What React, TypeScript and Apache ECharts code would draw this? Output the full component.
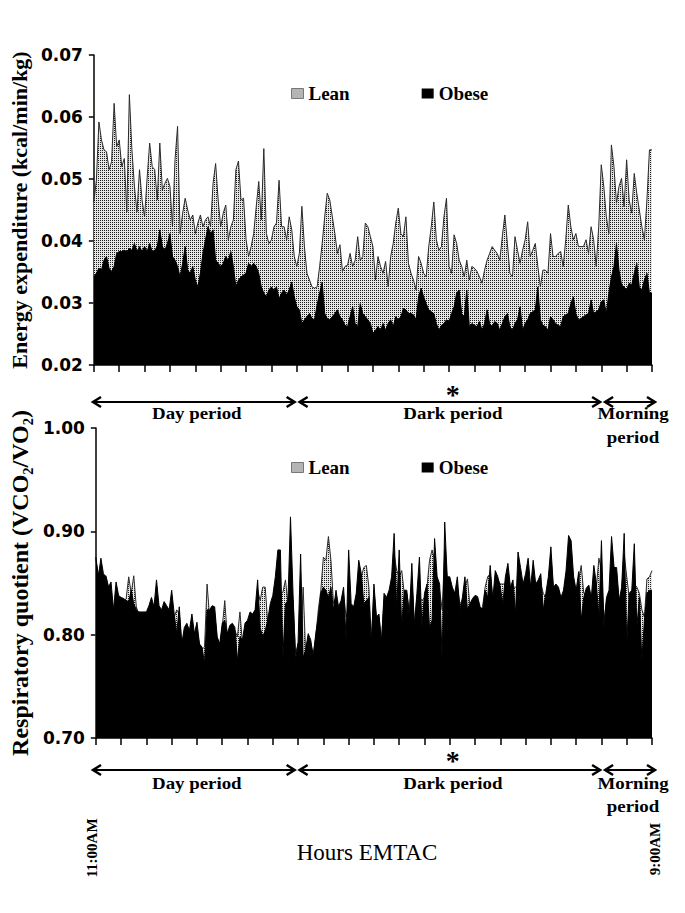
import React, { useEffect, useRef } from 'react';
import * as echarts from 'echarts';

// 6-minute slots from 11:00 AM to 9:00 AM (22 h)
const slotCount = 221;
const hourTickEvery = 10;

const eeLean = [
  0.0463, 0.0498, 0.0592, 0.0563, 0.0547, 0.0544, 0.0515, 0.0528, 0.0622, 0.0552,
  0.0563, 0.0520, 0.0533, 0.0447, 0.0636, 0.0547, 0.0488, 0.0447, 0.0515, 0.0466,
  0.0439, 0.0501, 0.0558, 0.0520, 0.0515, 0.0466, 0.0558, 0.0482, 0.0493, 0.0501,
  0.0488, 0.0423, 0.0531, 0.0585, 0.0412, 0.0445, 0.0469, 0.0450, 0.0434, 0.0442,
  0.0412, 0.0429, 0.0442, 0.0423, 0.0434, 0.0439, 0.0423, 0.0493, 0.0525, 0.0466,
  0.0423, 0.0445, 0.0458, 0.0402, 0.0423, 0.0434, 0.0515, 0.0529, 0.0466, 0.0469,
  0.0402, 0.0375, 0.0391, 0.0412, 0.0455, 0.0496, 0.0434, 0.0549, 0.0412, 0.0396,
  0.0402, 0.0423, 0.0429, 0.0498, 0.0423, 0.0423, 0.0402, 0.0439, 0.0418, 0.0375,
  0.0359, 0.0380, 0.0456, 0.0391, 0.0348, 0.0337, 0.0326, 0.0324, 0.0326, 0.0359,
  0.0396, 0.0439, 0.0477, 0.0466, 0.0439, 0.0412, 0.0380, 0.0394, 0.0351, 0.0359,
  0.0361, 0.0380, 0.0359, 0.0369, 0.0407, 0.0369, 0.0375, 0.0429, 0.0423, 0.0407,
  0.0391, 0.0337, 0.0375, 0.0359, 0.0348, 0.0367, 0.0326, 0.0375, 0.0396, 0.0429,
  0.0453, 0.0412, 0.0407, 0.0439, 0.0364, 0.0348, 0.0337, 0.0321, 0.0375, 0.0364,
  0.0348, 0.0342, 0.0391, 0.0423, 0.0463, 0.0402, 0.0385, 0.0391, 0.0439, 0.0469,
  0.0359, 0.0348, 0.0410, 0.0396, 0.0369, 0.0359, 0.0342, 0.0369, 0.0337, 0.0359,
  0.0356, 0.0351, 0.0342, 0.0332, 0.0353, 0.0369, 0.0380, 0.0391, 0.0385, 0.0380,
  0.0369, 0.0407, 0.0442, 0.0396, 0.0348, 0.0342, 0.0407, 0.0385, 0.0364, 0.0385,
  0.0402, 0.0431, 0.0375, 0.0385, 0.0396, 0.0359, 0.0326, 0.0353, 0.0353, 0.0348,
  0.0412, 0.0375, 0.0375, 0.0380, 0.0383, 0.0359, 0.0402, 0.0458, 0.0423, 0.0402,
  0.0412, 0.0391, 0.0391, 0.0391, 0.0402, 0.0380, 0.0423, 0.0402, 0.0359, 0.0423,
  0.0523, 0.0488, 0.0439, 0.0412, 0.0555, 0.0520, 0.0461, 0.0488, 0.0501, 0.0455,
  0.0531, 0.0466, 0.0445, 0.0509, 0.0477, 0.0450, 0.0423, 0.0402, 0.0466, 0.0547,
  0.0547,
];

const eeObese = [
  0.0342, 0.0348, 0.0356, 0.0353, 0.0369, 0.0375, 0.0356, 0.0351, 0.0359, 0.0380,
  0.0383, 0.0383, 0.0385, 0.0383, 0.0388, 0.0385, 0.0396, 0.0383, 0.0391, 0.0383,
  0.0391, 0.0383, 0.0396, 0.0383, 0.0385, 0.0391, 0.0418, 0.0391, 0.0385, 0.0396,
  0.0412, 0.0375, 0.0369, 0.0359, 0.0342, 0.0364, 0.0391, 0.0353, 0.0348, 0.0359,
  0.0337, 0.0326, 0.0348, 0.0380, 0.0402, 0.0423, 0.0412, 0.0418, 0.0369, 0.0364,
  0.0359, 0.0364, 0.0375, 0.0369, 0.0383, 0.0359, 0.0326, 0.0337, 0.0342, 0.0345,
  0.0348, 0.0364, 0.0359, 0.0364, 0.0359, 0.0348, 0.0326, 0.0316, 0.0310, 0.0321,
  0.0326, 0.0321, 0.0326, 0.0307, 0.0316, 0.0321, 0.0313, 0.0321, 0.0334, 0.0310,
  0.0294, 0.0289, 0.0267, 0.0273, 0.0278, 0.0283, 0.0275, 0.0273, 0.0297, 0.0316,
  0.0334, 0.0283, 0.0275, 0.0273, 0.0278, 0.0283, 0.0289, 0.0278, 0.0273, 0.0264,
  0.0262, 0.0278, 0.0294, 0.0267, 0.0262, 0.0299, 0.0283, 0.0278, 0.0273, 0.0267,
  0.0251, 0.0256, 0.0262, 0.0256, 0.0267, 0.0256, 0.0267, 0.0273, 0.0262, 0.0278,
  0.0273, 0.0278, 0.0291, 0.0289, 0.0283, 0.0283, 0.0281, 0.0273, 0.0310, 0.0324,
  0.0310, 0.0299, 0.0289, 0.0286, 0.0283, 0.0267, 0.0256, 0.0264, 0.0267, 0.0273,
  0.0270, 0.0283, 0.0294, 0.0316, 0.0321, 0.0283, 0.0278, 0.0321, 0.0262, 0.0267,
  0.0264, 0.0262, 0.0270, 0.0256, 0.0267, 0.0289, 0.0267, 0.0262, 0.0270, 0.0267,
  0.0256, 0.0267, 0.0278, 0.0283, 0.0262, 0.0256, 0.0267, 0.0273, 0.0294, 0.0256,
  0.0267, 0.0273, 0.0283, 0.0286, 0.0289, 0.0326, 0.0273, 0.0264, 0.0262, 0.0256,
  0.0278, 0.0273, 0.0267, 0.0264, 0.0262, 0.0278, 0.0281, 0.0283, 0.0299, 0.0310,
  0.0283, 0.0273, 0.0275, 0.0278, 0.0281, 0.0283, 0.0305, 0.0283, 0.0286, 0.0289,
  0.0302, 0.0305, 0.0283, 0.0316, 0.0342, 0.0359, 0.0396, 0.0353, 0.0329, 0.0326,
  0.0321, 0.0332, 0.0329, 0.0348, 0.0364, 0.0326, 0.0321, 0.0337, 0.0348, 0.0316,
  0.0316,
];

const rqLean = [
  0.872, 0.859, 0.862, 0.856, 0.857, 0.846, 0.840, 0.811, 0.836, 0.833,
  0.830, 0.832, 0.835, 0.856, 0.840, 0.857, 0.827, 0.820, 0.817, 0.819,
  0.820, 0.824, 0.830, 0.824, 0.836, 0.824, 0.820, 0.824, 0.825, 0.820,
  0.824, 0.817, 0.824, 0.820, 0.791, 0.801, 0.807, 0.801, 0.811, 0.798,
  0.804, 0.790, 0.786, 0.788, 0.849, 0.817, 0.824, 0.820, 0.795, 0.788,
  0.807, 0.833, 0.798, 0.804, 0.807, 0.804, 0.798, 0.822, 0.791, 0.804,
  0.809, 0.817, 0.814, 0.817, 0.843, 0.833, 0.846, 0.846, 0.811, 0.824,
  0.833, 0.846, 0.846, 0.840, 0.841, 0.853, 0.830, 0.836, 0.833, 0.782,
  0.791, 0.782, 0.846, 0.782, 0.798, 0.791, 0.782, 0.798, 0.824, 0.843,
  0.875, 0.872, 0.895, 0.872, 0.830, 0.836, 0.824, 0.827, 0.840, 0.817,
  0.827, 0.824, 0.824, 0.833, 0.853, 0.856, 0.865, 0.867, 0.846, 0.795,
  0.843, 0.814, 0.817, 0.795, 0.833, 0.830, 0.836, 0.849, 0.878, 0.862,
  0.856, 0.862, 0.840, 0.840, 0.824, 0.853, 0.811, 0.836, 0.836, 0.833,
  0.836, 0.846, 0.872, 0.882, 0.872, 0.853, 0.843, 0.824, 0.882, 0.853,
  0.849, 0.843, 0.836, 0.846, 0.830, 0.833, 0.846, 0.854, 0.827, 0.830,
  0.833, 0.833, 0.824, 0.827, 0.846, 0.856, 0.859, 0.836, 0.849, 0.853,
  0.849, 0.849, 0.849, 0.856, 0.843, 0.846, 0.846, 0.846, 0.856, 0.846,
  0.853, 0.856, 0.843, 0.853, 0.846, 0.846, 0.849, 0.840, 0.836, 0.843,
  0.877, 0.843, 0.846, 0.843, 0.833, 0.840, 0.856, 0.875, 0.875, 0.849,
  0.840, 0.853, 0.867, 0.840, 0.840, 0.843, 0.833, 0.853, 0.846, 0.874,
  0.862, 0.814, 0.833, 0.840, 0.856, 0.856, 0.859, 0.830, 0.843, 0.878,
  0.856, 0.836, 0.840, 0.849, 0.846, 0.840, 0.824, 0.817, 0.854, 0.856,
  0.862,
];

const rqObese = [
  0.875, 0.856, 0.874, 0.859, 0.856, 0.846, 0.851, 0.824, 0.851, 0.838,
  0.836, 0.835, 0.833, 0.832, 0.843, 0.830, 0.824, 0.822, 0.822, 0.822,
  0.822, 0.828, 0.836, 0.827, 0.853, 0.828, 0.824, 0.832, 0.828, 0.824,
  0.843, 0.820, 0.801, 0.827, 0.791, 0.807, 0.811, 0.804, 0.820, 0.801,
  0.812, 0.791, 0.788, 0.772, 0.824, 0.824, 0.828, 0.827, 0.798, 0.791,
  0.811, 0.814, 0.801, 0.809, 0.811, 0.807, 0.775, 0.798, 0.795, 0.811,
  0.814, 0.822, 0.820, 0.824, 0.853, 0.807, 0.798, 0.804, 0.814, 0.830,
  0.838, 0.856, 0.882, 0.882, 0.778, 0.830, 0.833, 0.914, 0.840, 0.775,
  0.793, 0.878, 0.778, 0.785, 0.801, 0.795, 0.778, 0.801, 0.817, 0.840,
  0.846, 0.843, 0.836, 0.846, 0.824, 0.843, 0.827, 0.833, 0.846, 0.795,
  0.882, 0.830, 0.827, 0.840, 0.872, 0.859, 0.830, 0.833, 0.836, 0.791,
  0.849, 0.817, 0.820, 0.791, 0.840, 0.836, 0.843, 0.856, 0.898, 0.824,
  0.882, 0.807, 0.843, 0.843, 0.817, 0.869, 0.807, 0.840, 0.875, 0.807,
  0.840, 0.849, 0.807, 0.814, 0.893, 0.856, 0.849, 0.775, 0.909, 0.856,
  0.856, 0.846, 0.840, 0.856, 0.824, 0.836, 0.856, 0.824, 0.830, 0.835,
  0.838, 0.837, 0.827, 0.824, 0.843, 0.836, 0.867, 0.833, 0.862, 0.856,
  0.846, 0.830, 0.856, 0.869, 0.846, 0.853, 0.820, 0.880, 0.865, 0.849,
  0.859, 0.874, 0.846, 0.872, 0.849, 0.853, 0.859, 0.824, 0.840, 0.856,
  0.885, 0.846, 0.849, 0.846, 0.836, 0.843, 0.862, 0.896, 0.891, 0.856,
  0.843, 0.861, 0.814, 0.836, 0.845, 0.848, 0.836, 0.867, 0.849, 0.817,
  0.891, 0.807, 0.836, 0.843, 0.895, 0.865, 0.865, 0.833, 0.846, 0.898,
  0.791, 0.840, 0.843, 0.888, 0.807, 0.836, 0.775, 0.814, 0.840, 0.843,
  0.843,
];

const periods = [
  { label: 'Day period', start: 0, end: 80, star: false },
  { label: 'Dark period', start: 80, end: 200, star: true },
  { label: 'Morning', label2: 'period', start: 200, end: 220, star: false },
];

const startLabel = '11:00AM';
const endLabel = '9:00AM';
const xTitle = 'Hours EMTAC';
const eeTitle = 'Energy expenditure (kcal/min/kg)';
const rqTitle = 'Respiratory quotient (VCO\u2082/VO\u2082)';

const GL = 92;
const GW = 560;
const GH = 310;
const TOPS = [55, 428];
const SERIF = '"Liberation Serif", "Times New Roman", serif';
const SANS = '"DejaVu Sans", sans-serif';

export default function App() {
  const ref = useRef<HTMLDivElement>(null);

  useEffect(() => {
    if (!ref.current) return;
    const chart = echarts.init(ref.current, null, { renderer: 'svg' });

    const cv = document.createElement('canvas');
    cv.width = 2;
    cv.height = 2;
    const ctx = cv.getContext('2d')!;
    ctx.fillStyle = '#e6e6e6';
    ctx.fillRect(0, 0, 2, 2);
    ctx.fillStyle = '#1c1c1c';
    ctx.fillRect(0, 0, 1, 1);
    const pattern: any = { image: cv.toDataURL(), repeat: 'repeat', imageWidth: 2, imageHeight: 2 };

    const cats: string[] = [];
    for (let i = 0; i < slotCount; i++) {
      const m = 11 * 60 + i * 6;
      const hh = Math.floor(m / 60) % 24;
      const mm = m % 60;
      cats.push(`${hh}:${mm < 10 ? '0' : ''}${mm}`);
    }

    const xOf = (i: number) => GL + (i * GW) / (slotCount - 1);

    const mkSeries = (name: string, data: number[], gi: number) => ({
      type: 'line',
      name,
      xAxisIndex: gi,
      yAxisIndex: gi,
      data,
      symbol: 'none',
      showSymbol: false,
      silent: true,
      lineStyle: { color: name === 'Lean' ? '#2a2a2a' : '#000', width: 1 },
      itemStyle: { color: name === 'Lean' ? pattern : '#000' },
      areaStyle: { color: name === 'Lean' ? pattern : '#000', opacity: 1, origin: 'start' },
      z: name === 'Lean' ? 2 : 3,
    });

    const text = (t: string, x: number, y: number, font: string, extra: any = {}) => ({
      type: 'text',
      x,
      y,
      z: 100,
      ...extra,
      style: {
        text: t,
        x: 0,
        y: 0,
        font,
        fill: '#000',
        align: 'center',
        verticalAlign: 'middle',
        textAlign: 'center',
        textVerticalAlign: 'middle',
      },
    });

    const arrow = (x1: number, x2: number, y: number) => {
      const h = 9;
      const w = 5;
      const st = { stroke: '#000', lineWidth: 2.5 };
      return [
        { type: 'line', z: 100, shape: { x1: x1 + 1, y1: y, x2: x2 - 1, y2: y }, style: { stroke: '#000', lineWidth: 2 } },
        { type: 'polyline', z: 100, shape: { points: [[x1 + h, y - w], [x1 + 1, y], [x1 + h, y + w]] }, style: st },
        { type: 'polyline', z: 100, shape: { points: [[x2 - h, y - w], [x2 - 1, y], [x2 - h, y + w]] }, style: st },
      ];
    };

    const graphics: any[] = [];
    const periodBlocks = [
      { arrowY: 402, starY: 394, labelY: 414, label2Y: 438 },
      { arrowY: 770, starY: 760, labelY: 784, label2Y: 807 },
    ];
    periodBlocks.forEach((b) => {
      periods.forEach((p, k) => {
        const x1 = xOf(p.start) + (k === 0 ? 0 : 3);
        const x2 = xOf(p.end) + (k === periods.length - 1 ? 4 : 0);
        graphics.push(...arrow(x1, x2, b.arrowY));
        const cx = (x1 + x2) / 2 + 3;
        graphics.push(text(p.label, cx, b.labelY, `bold 16px ${SERIF}`, { scaleX: 1.18 }));
        if (p.label2) graphics.push(text(p.label2, cx, b.label2Y, `bold 16px ${SERIF}`, { scaleX: 1.18 }));
        if (p.star) graphics.push(text('*', cx, b.starY, `bold 28px ${SERIF}`));
      });
    });
    graphics.push(text(startLabel, xOf(0), 848, `bold 15px ${SERIF}`, { rotation: Math.PI / 2 }));
    graphics.push(text(endLabel, xOf(slotCount - 1) + 3, 849, `bold 15px ${SERIF}`, { rotation: Math.PI / 2 }));
    graphics.push(text(xTitle, 367, 852, `23px ${SERIF}`));

    const yCommon = {
      type: 'value',
      axisLine: { show: true, lineStyle: { color: '#000', width: 1.5 } },
      axisTick: { show: true, length: 5, lineStyle: { color: '#000', width: 1.5 } },
      splitLine: { show: false },
      axisLabel: {
        color: '#000',
        fontFamily: SANS,
        fontWeight: 'bold',
        fontSize: 17,
        margin: 11,
        formatter: (v: number) => v.toFixed(2),
      },
      nameLocation: 'middle',
      nameRotate: 90,
      nameGap: 62,
    };

    const option: any = {
      animation: false,
      backgroundColor: '#fff',
      grid: TOPS.map((t) => ({ left: GL, top: t, width: GW, height: GH, containLabel: false })),
      legend: TOPS.map((t, k) => ({
        top: k === 0 ? 79 : 453,
        left: 286,
        orient: 'horizontal',
        icon: 'rect',
        itemWidth: 12,
        itemHeight: 10,
        itemGap: 72,
        selectedMode: false,
        textStyle: { fontFamily: SERIF, fontWeight: 'bold', fontSize: 19, color: '#000' },
        data: [
          { name: 'Lean', itemStyle: { color: pattern, borderColor: '#777', borderWidth: 1 } },
          { name: 'Obese', itemStyle: { color: '#000' } },
        ],
      })),
      xAxis: TOPS.map((_, k) => ({
        type: 'category',
        gridIndex: k,
        data: cats,
        boundaryGap: false,
        axisLine: { show: true, lineStyle: { color: '#000', width: 1.5 } },
        axisTick: { show: true, interval: hourTickEvery - 1, length: 7, lineStyle: { color: '#000', width: 1.5 } },
        axisLabel: { show: false },
        splitLine: { show: false },
      })),
      yAxis: [
        {
          ...yCommon,
          gridIndex: 0,
          min: 0.02,
          max: 0.07,
          interval: 0.01,
          name: eeTitle,
          nameTextStyle: { fontFamily: SERIF, fontWeight: 'bold', fontSize: 22, color: '#000' },
        },
        {
          ...yCommon,
          gridIndex: 1,
          min: 0.7,
          max: 1.0,
          interval: 0.1,
          name: rqTitle,
          nameTextStyle: { fontFamily: SERIF, fontWeight: 'bold', fontSize: 24, color: '#000' },
        },
      ],
      series: [
        mkSeries('Lean', eeLean, 0),
        mkSeries('Obese', eeObese, 0),
        mkSeries('Lean', rqLean, 1),
        mkSeries('Obese', rqObese, 1),
      ],
      graphic: { elements: graphics },
    };

    chart.setOption(option);
    return () => chart.dispose();
  }, []);

  return <div ref={ref} style={{ position: 'absolute', left: 0, top: 0, width: 685, height: 913 }} />;
}
